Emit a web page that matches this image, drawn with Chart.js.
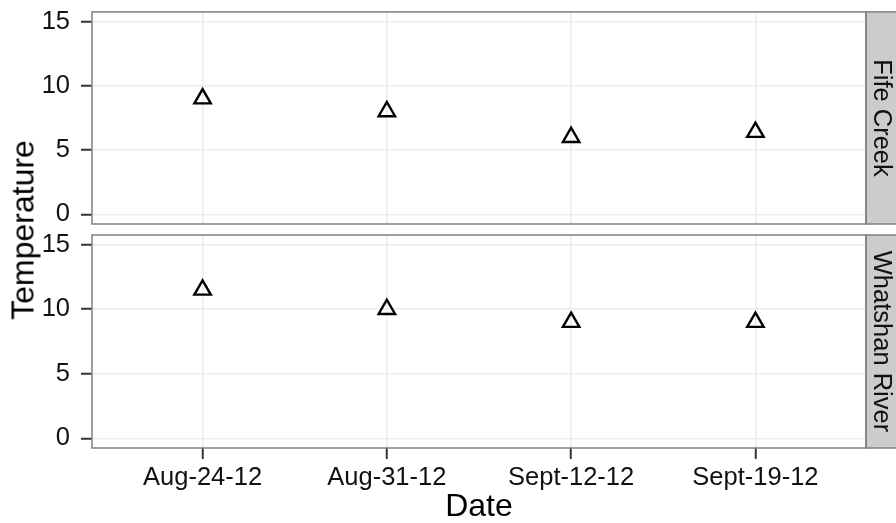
<!DOCTYPE html>
<html>
<head>
<meta charset="utf-8">
<script src="https://cdn.jsdelivr.net/npm/chart.js@4.4.0/dist/chart.umd.min.js"></script>
<style>
  body { margin: 0; background: #fff; }
  #wrap { position: relative; width: 896px; height: 523px; overflow: hidden; }
  canvas { position: absolute; left: 0; top: 0; }
  #ytitle {
    position: absolute; left: 23px; top: 230px;
    transform: translate(-50%, -50%) rotate(-90deg);
    font: 32px "Liberation Sans", Arial, sans-serif;
    white-space: nowrap; color: #000;
  }
</style>
</head>
<body>
<div id="wrap">
  <canvas id="topPanel" width="896" height="523"></canvas>
  <canvas id="bottomPanel" width="896" height="523"></canvas>
  <div id="ytitle">Temperature</div>
</div>
<script>
const dates = ["Aug-24-12", "Aug-31-12", "Sept-12-12", "Sept-19-12"];
const sites = ["Fife Creek", "Whatshan River"];
const fifeCreek = [9, 8, 6, 6.4];
const whatshanRiver = [11.5, 10, 9, 9];
const yTicks = [0, 5, 10, 15];

const FONT = '"Liberation Sans", Arial, sans-serif';

// panel border + grey strip on the right, ggplot style
const panelBox = {
  id: "panelBox",
  beforeDraw(chart) {
    const { ctx, chartArea: a } = chart;
    ctx.save();
    ctx.fillStyle = "#cccccc";
    ctx.fillRect(a.right, a.top, chart.width - a.right, a.bottom - a.top);
    ctx.strokeStyle = "#808080";
    ctx.lineWidth = 1.5;
    ctx.strokeRect(a.right, a.top, chart.width - a.right + 2, a.bottom - a.top);
    ctx.restore();
  },
  beforeDatasetsDraw(chart) {
    const { ctx, chartArea: a } = chart;
    ctx.save();
    ctx.strokeStyle = "#808080";
    ctx.lineWidth = 1.5;
    ctx.strokeRect(a.left, a.top, a.right - a.left, a.bottom - a.top);
    ctx.restore();
  },
};

// no extra room for overhanging tick labels
function noOverhang(s) {
  s.paddingTop = 0;
  s.paddingBottom = 0;
  s.paddingLeft = 0;
  s.paddingRight = 0;
}

function makePanel(id, values, site, padTop, padBottom, showX) {
  return new Chart(document.getElementById(id), {
    type: "scatter",
    data: {
      datasets: [
        {
          data: values.map((v, i) => ({ x: i, y: v })),
          pointStyle: "triangle",
          pointRadius: 9.5,
          pointHoverRadius: 9.5,
          pointBorderWidth: 2.4,
          pointBorderColor: "#000",
          pointBackgroundColor: "rgba(0,0,0,0)",
        },
      ],
    },
    options: {
      responsive: false,
      animation: false,
      events: [],
      layout: { padding: { top: padTop, bottom: padBottom, left: 0, right: 0 } },
      plugins: { legend: { display: false }, tooltip: { enabled: false } },
      scales: {
        x: {
          type: "linear",
          min: -0.6,
          max: 3.6,
          afterBuildTicks: (s) => {
            s.ticks = dates.map((d, i) => ({ value: i }));
          },
          afterFit: (s) => {
            s.height = showX ? 75 : 0;
            noOverhang(s);
          },
          border: { display: false },
          grid: {
            color: "#ebebeb",
            lineWidth: 1.5,
            drawTicks: showX,
            tickLength: 11,
            tickColor: "#333",
            tickWidth: 2,
          },
          ticks: {
            display: showX,
            padding: 4,
            color: "#111",
            font: { family: FONT, size: 25.5 },
            callback: (v) => dates[v],
          },
          title: {
            display: showX,
            text: "Date",
            color: "#000",
            padding: { top: 0, bottom: 0 },
            font: { family: FONT, size: 32, lineHeight: 1 },
          },
        },
        y: {
          position: "left",
          min: -0.75,
          max: 15.75,
          afterBuildTicks: (s) => {
            s.ticks = yTicks.map((v) => ({ value: v }));
          },
          afterFit: (s) => {
            s.width = 92;
            noOverhang(s);
          },
          border: { display: false },
          grid: {
            color: "#ebebeb",
            lineWidth: 1.5,
            tickLength: 11,
            tickColor: "#333",
            tickWidth: 2,
          },
          ticks: {
            padding: 11,
            color: "#111",
            font: { family: FONT, size: 25.5 },
          },
        },
        strip: {
          type: "linear",
          position: "right",
          min: 0,
          max: 1,
          afterFit: (s) => {
            s.width = 30;
            noOverhang(s);
          },
          border: { display: false },
          grid: { display: false, drawTicks: false },
          ticks: { display: false },
          title: {
            display: true,
            text: site,
            color: "#111",
            padding: { top: 2, bottom: 0 },
            font: { family: FONT, size: 25.5, lineHeight: 1 },
          },
        },
      },
    },
    plugins: [panelBox],
  });
}

makePanel("topPanel", fifeCreek, sites[0], 11, 299, false);
makePanel("bottomPanel", whatshanRiver, sites[1], 235, 0, true);
</script>
</body>
</html>
